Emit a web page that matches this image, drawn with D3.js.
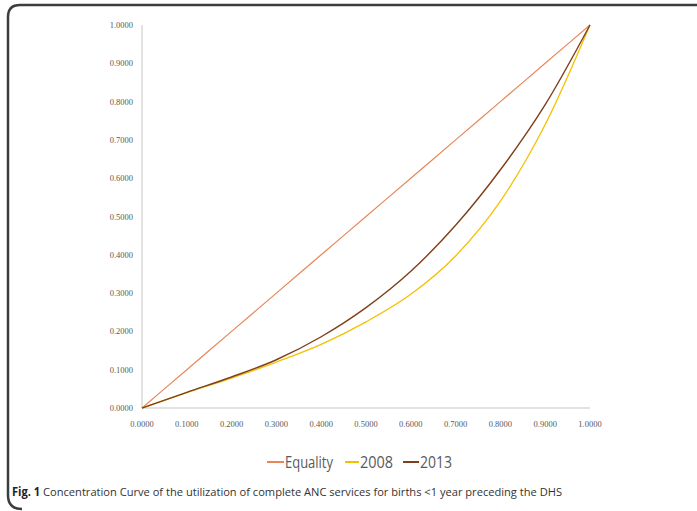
<!DOCTYPE html>
<html><head><meta charset="utf-8">
<script src="https://cdn.jsdelivr.net/npm/d3@7"></script>
<style>body{margin:0;background:#fff}svg{display:block}</style>
</head><body>
<svg id="c" width="697" height="511"></svg>
<script>
const xValues = [0, 0.1, 0.2, 0.3, 0.4, 0.5, 0.6, 0.7, 0.8, 0.9, 1.0];
const equality = [0, 0.1, 0.2, 0.3, 0.4, 0.5, 0.6, 0.7, 0.8, 0.9, 1.0];
const s2008 = [0, 0.040, 0.078, 0.120, 0.166, 0.225, 0.297, 0.397, 0.540, 0.740, 1.0];
const s2013 = [0, 0.041, 0.081, 0.126, 0.186, 0.262, 0.357, 0.477, 0.622, 0.792, 1.0];
const seriesNames = ["Equality", "2008", "2013"];
const seriesColors = ["#E8875A", "#F5C000", "#7E3F1A"];
const tickValues = [0, 0.1, 0.2, 0.3, 0.4, 0.5, 0.6, 0.7, 0.8, 0.9, 1.0];
const caption = "Concentration Curve of the utilization of complete ANC services for births <1 year preceding the DHS";

const svg = d3.select("#c");
// frame
svg.append("path")
  .attr("d", "M22,509 Q8,509 8,495 L8,17 Q8,5 20,5 L697,5")
  .attr("fill", "none").attr("stroke", "#3d3d3d").attr("stroke-width", 2.5);

const x = d3.scaleLinear().domain([0, 1]).range([142, 590]);
const y = d3.scaleLinear().domain([0, 1]).range([408, 25]);

// axes lines
svg.append("line").attr("x1", x(0)).attr("x2", x(1)).attr("y1", y(0)).attr("y2", y(0))
  .attr("stroke", "#d9d9d9").attr("stroke-width", 1.5);
svg.append("line").attr("x1", x(0)).attr("x2", x(0)).attr("y1", y(0)).attr("y2", y(1))
  .attr("stroke", "#d9d9d9").attr("stroke-width", 1.5);

const fmt = d3.format(".4f");
svg.append("g").selectAll("text").data(tickValues).join("text")
  .attr("x", 133).attr("y", d => y(d) + 3)
  .attr("text-anchor", "end")
  .attr("font-family", "Liberation Serif").attr("font-size", 8.5).attr("fill", "#595959")
  .text(d => fmt(d));
svg.append("g").selectAll("text").data(tickValues).join("text")
  .attr("x", d => x(d)).attr("y", 427)
  .attr("text-anchor", "middle")
  .attr("font-family", "Liberation Serif").attr("font-size", 8.5).attr("fill", "#595959")
  .text(d => fmt(d));

const line = d3.line().x(d => x(d[0])).y(d => y(d[1])).curve(d3.curveMonotoneX);
const allSeries = [equality, s2008, s2013];
const widths = [1.2, 1.3, 1.4];
allSeries.forEach((vals, i) => {
  svg.append("path")
    .datum(xValues.map((xv, j) => [xv, vals[j]]))
    .attr("fill", "none").attr("stroke", seriesColors[i]).attr("stroke-width", widths[i])
    .attr("d", line);
});

// legend
const legItems = [
  {lx: 267, tx: 285, w: 48},
  {lx: 345, tx: 360, w: 33},
  {lx: 403, tx: 420, w: 32}
];
seriesNames.forEach((n, i) => {
  const it = legItems[i];
  svg.append("line").attr("x1", it.lx).attr("x2", it.tx - 1).attr("y1", 462).attr("y2", 462)
    .attr("stroke", seriesColors[i]).attr("stroke-width", 2);
  svg.append("text").attr("x", it.tx).attr("y", 468)
    .attr("font-family", "Open Sans").attr("font-size", 16).attr("fill", "#595959")
    .attr("textLength", it.w).attr("lengthAdjust", "spacingAndGlyphs")
    .text(n);
});

// caption
const cap = svg.append("text").attr("x", 12).attr("y", 496)
  .attr("font-family", "Open Sans").attr("font-size", 11.5).attr("fill", "#333");
cap.append("tspan").attr("font-weight", "bold").attr("fill", "#222").text("Fig. 1");
cap.append("tspan").text(" " + caption);
cap.attr("textLength", 550).attr("lengthAdjust", "spacingAndGlyphs");
</script>
</body></html>
